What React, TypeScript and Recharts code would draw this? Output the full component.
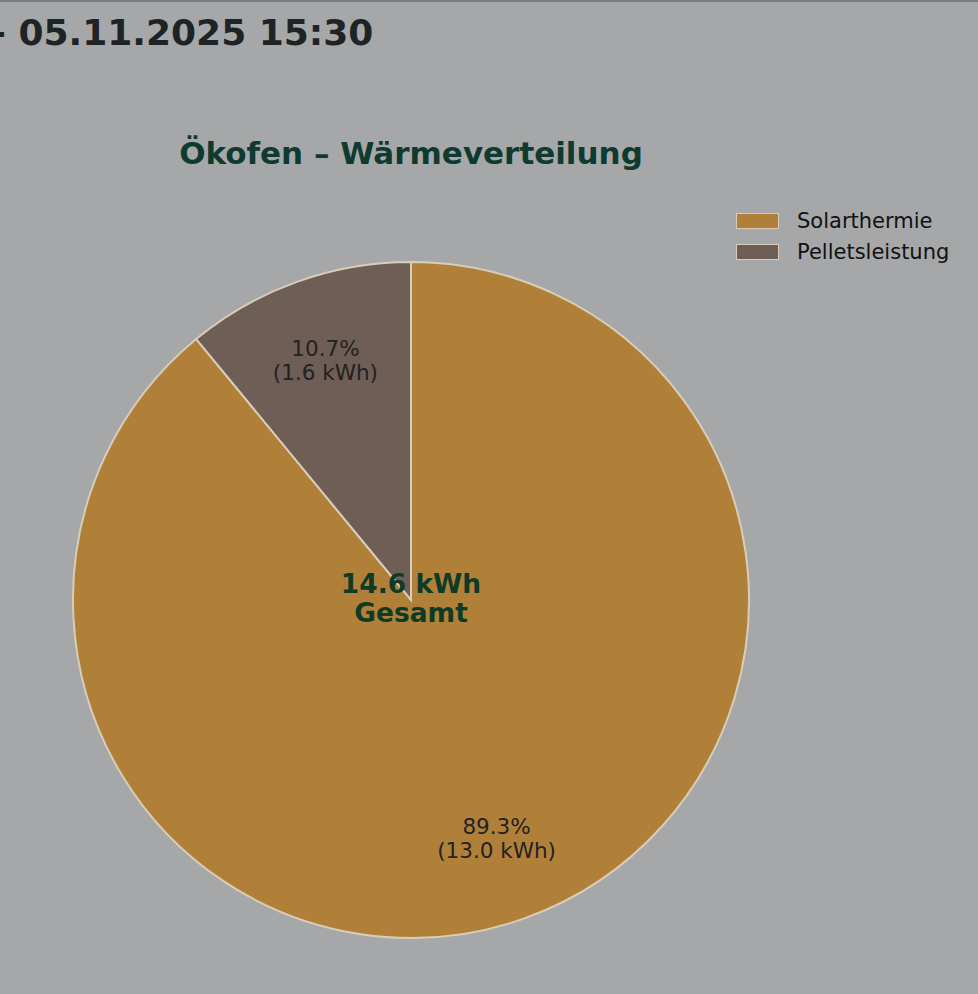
import { PieChart, Pie, Cell } from "recharts";

const categories = ["Solarthermie", "Pelletsleistung"];
const energyKwh = [13.0, 1.6];
const shares = [89.3, 10.7];
const colors = ["#b08038", "#6e5e56"];
const totalLabel = "14.6 kWh";
const timestamp = "- 05.11.2025 15:30";
const title = "Ökofen – Wärmeverteilung";

const data = categories.map((name, i) => ({
  name,
  value: energyKwh[i],
  share: shares[i],
}));

const RAD = Math.PI / 180;

const renderLabel = (props: any) => {
  const { cx, cy, midAngle, outerRadius, index } = props;
  const r = outerRadius * 0.75;
  const x = cx + r * Math.cos(-midAngle * RAD);
  const y = cy + r * Math.sin(-midAngle * RAD);
  return (
    <text
      x={x}
      y={y}
      textAnchor="middle"
      fill="#222"
      fontSize={21.5}
      fontFamily="DejaVu Sans"
    >
      <tspan x={x} dy={-5}>{`${shares[index].toFixed(1)}%`}</tspan>
      <tspan x={x} dy={24}>{`(${energyKwh[index].toFixed(1)} kWh)`}</tspan>
    </text>
  );
};

const LegendBox = () => (
  <div style={{ position: "absolute", left: 736, top: 203 }}>
    {categories.map((c, i) => (
      <div key={c} style={{ display: "flex", alignItems: "center", height: 31 }}>
        <span
          style={{
            width: 41,
            height: 14,
            background: colors[i],
            border: "1px solid #d8cdb8",
            marginRight: 18,
          }}
        />
        <span style={{ fontSize: 21, color: "#111", fontFamily: "DejaVu Sans" }}>{c}</span>
      </div>
    ))}
  </div>
);

export default function App() {
  return (
    <div
      style={{
        position: "absolute",
        left: 0,
        top: 0,
        width: 978,
        height: 994,
        background: "#a6a7a8",
        borderTop: "2px solid #7d7e80",
        boxSizing: "border-box",
        overflow: "hidden",
        fontFamily: "DejaVu Sans",
      }}
    >
      <div
        style={{
          position: "absolute",
          left: -9,
          top: 10,
          fontSize: 36,
          fontWeight: "bold",
          color: "#1e2326",
          whiteSpace: "nowrap",
        }}
      >
        {timestamp}
      </div>
      <div
        style={{
          position: "absolute",
          left: 0,
          width: 822,
          top: 133,
          textAlign: "center",
          fontSize: 31,
          fontWeight: "bold",
          color: "#0f3a30",
        }}
      >
        {title}
      </div>
      <div style={{ position: "absolute", left: 0, top: -2 }}>
        <PieChart width={978} height={994}>
          <Pie
            data={data}
            dataKey="value"
            nameKey="name"
            cx={406}
            cy={595}
            outerRadius={338}
            startAngle={90}
            endAngle={-270}
            stroke="#d8cdb8"
            strokeWidth={2}
            label={renderLabel}
            labelLine={false}
            isAnimationActive={false}
          >
            {data.map((d, i) => (
              <Cell key={d.name} fill={colors[i]} />
            ))}
          </Pie>
        </PieChart>
      </div>
      <LegendBox />
      <div
        style={{
          position: "absolute",
          left: 291,
          width: 240,
          top: 567,
          textAlign: "center",
          fontSize: 26.5,
          fontWeight: "bold",
          color: "#0f3a26",
          lineHeight: "29px",
        }}
      >
        {totalLabel}
        <br />
        Gesamt
      </div>
    </div>
  );
}
